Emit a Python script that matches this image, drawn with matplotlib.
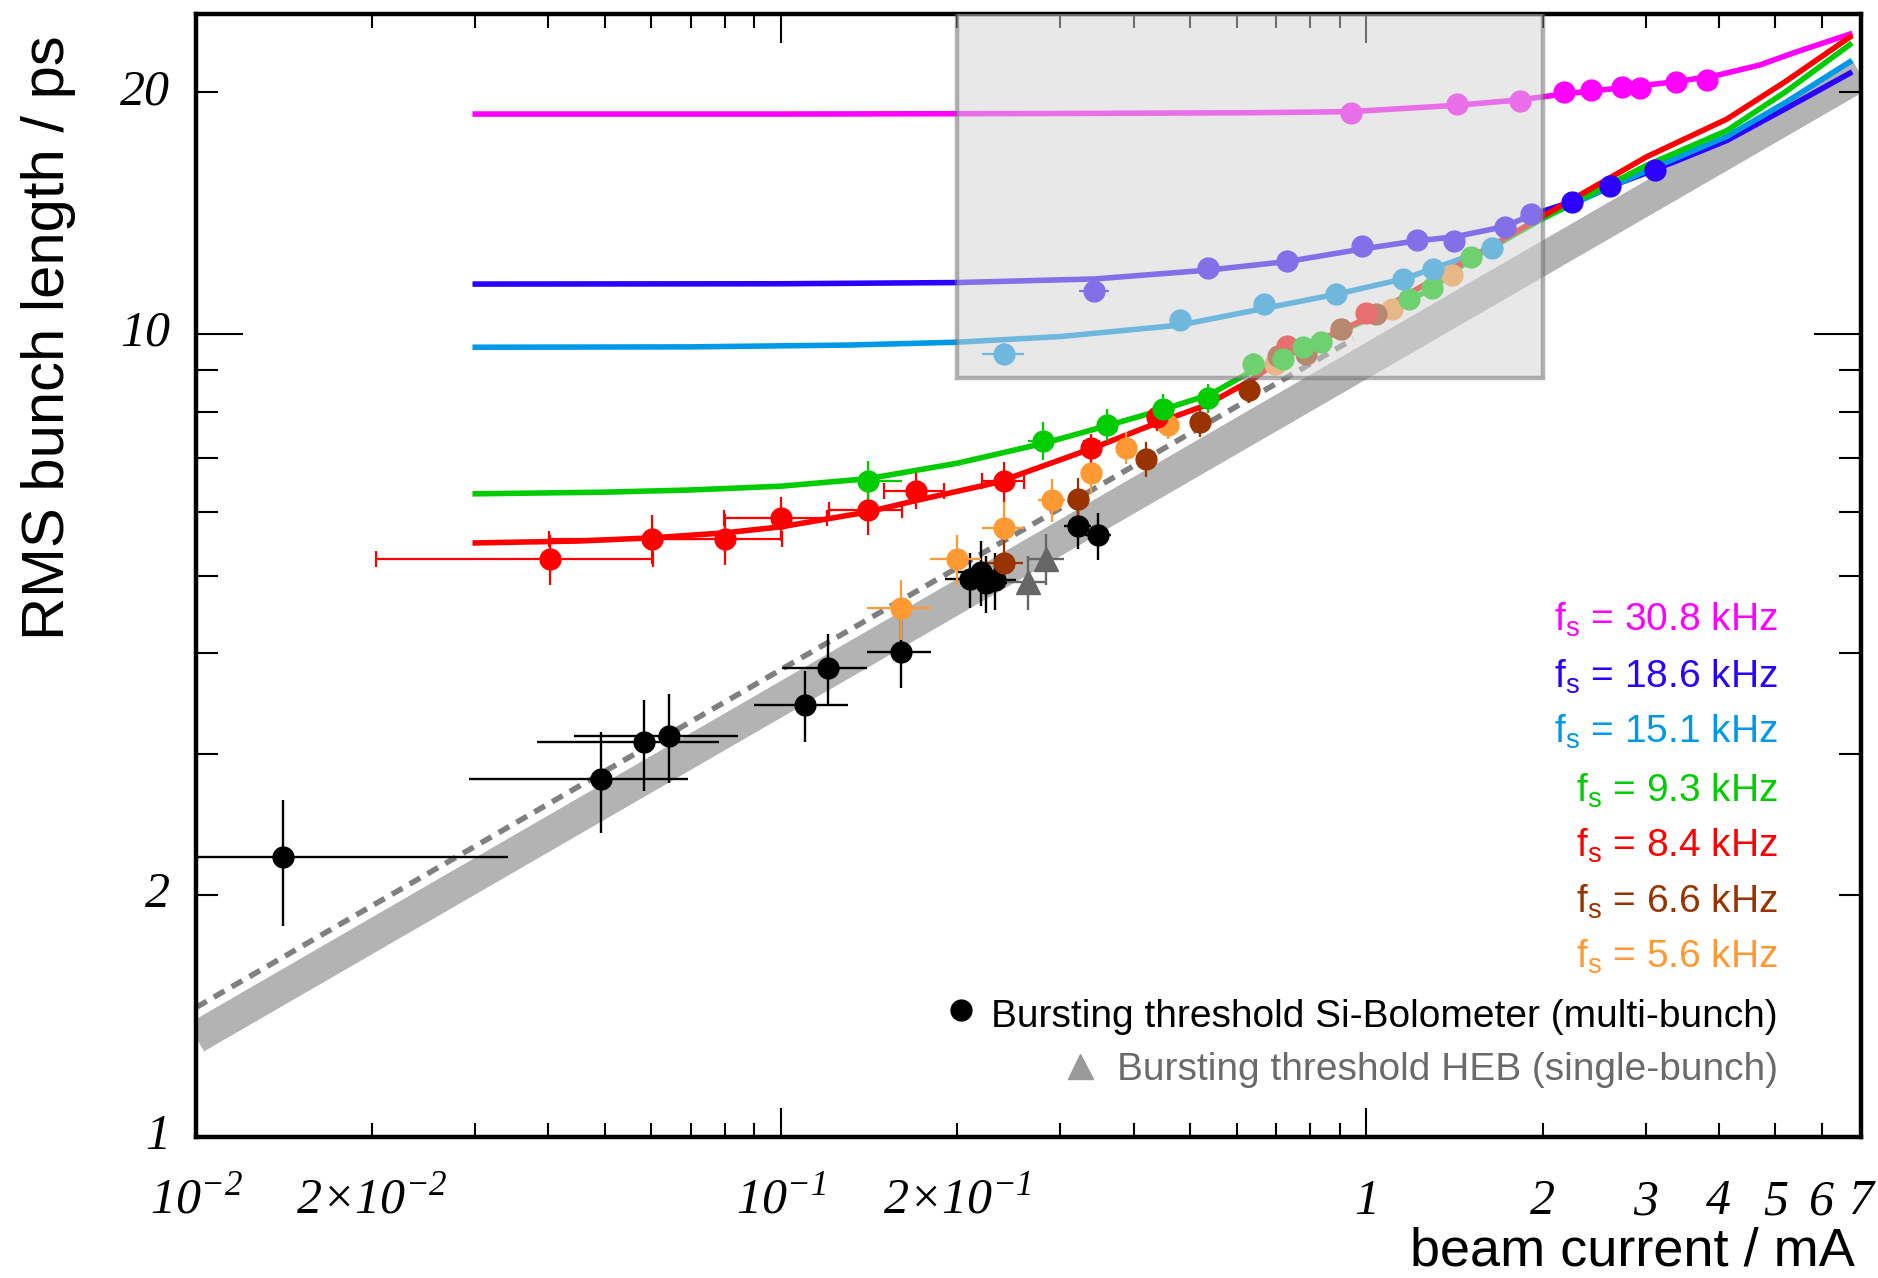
import matplotlib
matplotlib.use('Agg')
import matplotlib.pyplot as plt
from matplotlib.patches import Rectangle
from matplotlib.ticker import FixedLocator, NullFormatter
from matplotlib.font_manager import FontProperties

plt.rcParams['font.family'] = 'Liberation Sans'

# beam current in mA, rms bunch length in ps

# scaling band and dashed scaling line
band_I = [0.01, 7.0]
band_s = [1.33, 21.0]
dash_I = [0.01, 0.95]
dash_s = [1.45, 9.85]

# fits for each synchrotron frequency
fit308_I = [0.03, 0.1, 0.3, 0.63, 0.94, 1.43, 1.83, 2.2, 2.75, 3.4, 4.0, 4.7, 5.4, 6.7]
fit308_s = [18.77, 18.77, 18.8, 18.84, 18.9, 19.25, 19.55, 19.9, 20.25, 20.6, 21.0, 21.6, 22.4, 23.6]
fit186_I = [0.03, 0.1, 0.2, 0.343, 0.536, 0.733, 0.984, 1.218, 1.414, 1.727, 1.912, 2.244, 2.61, 3.11, 4.13, 5.23, 6.7]
fit186_s = [11.53, 11.54, 11.58, 11.7, 12.0, 12.3, 12.75, 13.05, 13.2, 13.6, 14.05, 14.6, 15.25, 16.0, 17.4, 19.1, 21.1]
fit151_I = [0.03, 0.07, 0.13, 0.2, 0.3, 0.48, 0.668, 0.889, 1.156, 1.3, 1.64, 2.0, 2.6, 3.1, 4.13, 5.2, 6.7]
fit151_s = [9.62, 9.63, 9.68, 9.76, 9.92, 10.25, 10.75, 11.2, 11.7, 12.05, 12.8, 13.95, 15.2, 16.1, 17.6, 19.4, 21.8]
fit93_I = [0.03, 0.05, 0.07, 0.1, 0.1406, 0.2, 0.28, 0.36, 0.45, 0.54, 0.64, 0.78, 1.0, 1.18, 1.3, 1.51, 2.0, 3.01, 4.13, 5.2, 6.7]
fit93_s = [6.32, 6.35, 6.39, 6.46, 6.6, 6.9, 7.3, 7.68, 8.05, 8.4, 9.0, 9.6, 10.4, 11.0, 11.4, 12.4, 13.9, 16.2, 17.9, 20.0, 22.9]
fit84_I = [0.03, 0.045, 0.06, 0.08, 0.1, 0.1406, 0.17, 0.234, 0.34, 0.44, 0.532, 0.635, 0.733, 1.0, 1.5, 2.0, 3.01, 4.13, 5.2, 6.7]
fit84_s = [5.49, 5.52, 5.57, 5.65, 5.75, 6.0, 6.2, 6.53, 7.2, 7.75, 8.15, 8.75, 9.4, 10.45, 12.4, 14.0, 16.6, 18.5, 20.6, 23.4]

# measured bunch lengths
I308 = [0.94, 1.43, 1.83, 2.18, 2.42, 2.73, 2.93, 3.38, 3.82]
s308 = [18.8, 19.3, 19.5, 20.0, 20.1, 20.3, 20.2, 20.55, 20.7]
ds308 = [0.3, 0.3, 0.3, 0.3, 0.3, 0.3, 0.3, 0.3, 0.3]
dI308 = [0, 0, 0, 0, 0, 0, 0, 0, 0]

I186 = [0.343, 0.536, 0.733, 0.984, 1.218, 1.414, 1.727, 1.912, 2.244, 2.61, 3.11]
s186 = [11.3, 12.08, 12.33, 12.87, 13.08, 13.05, 13.57, 14.09, 14.6, 15.28, 16.0]
ds186 = [0.3, 0.35, 0.35, 0.35, 0.3, 0.3, 0.3, 0.3, 0.3, 0.3, 0.3]
dI186 = [0.02, 0, 0, 0, 0, 0, 0, 0, 0, 0, 0]

I151 = [0.240, 0.480, 0.668, 0.889, 1.156, 1.30, 1.64]
s151 = [9.44, 10.4, 10.89, 11.22, 11.7, 12.04, 12.8]
ds151 = [0.3, 0.3, 0.3, 0.3, 0.3, 0.3, 0.3]
dI151 = [0.02, 0, 0, 0, 0, 0, 0]

I93 = [0.1406, 0.2805, 0.360, 0.449, 0.537, 0.639, 0.719, 0.778, 0.836, 1.182, 1.295, 1.51]
s93 = [6.56, 7.36, 7.70, 8.06, 8.32, 9.17, 9.30, 9.62, 9.76, 11.04, 11.39, 12.47]
ds93 = [0.38, 0.4, 0.35, 0.35, 0.35, 0.3, 0.25, 0.25, 0.25, 0.25, 0.25, 0.25]
dI93 = [0.02, 0.016, 0, 0, 0, 0, 0, 0, 0, 0, 0, 0]

I84 = [0.0403, 0.0601, 0.0802, 0.0998, 0.1406, 0.170, 0.240, 0.339, 0.438, 0.733, 0.997]
s84 = [5.24, 5.56, 5.56, 5.89, 6.04, 6.38, 6.55, 7.21, 7.87, 9.66, 10.6]
ds84 = [0.38, 0.39, 0.40, 0.37, 0.42, 0.33, 0.38, 0.30, 0.30, 0.20, 0.20]
dI84 = [0.02, 0.02, 0.02, 0.02, 0.02, 0.02, 0.02, 0.01, 0, 0, 0]

I66 = [0.240, 0.321, 0.420, 0.519, 0.629, 0.705, 0.788, 0.904, 1.037]
s66 = [5.18, 6.23, 6.98, 7.77, 8.50, 9.39, 9.44, 10.14, 10.58]
ds66 = [0.35, 0.38, 0.35, 0.33, 0.3, 0.2, 0.2, 0.2, 0.2]
dI66 = [0.019, 0.012, 0, 0, 0, 0, 0, 0, 0]

I56 = [0.160, 0.1995, 0.240, 0.290, 0.339, 0.389, 0.458, 0.698, 0.904, 1.107, 1.401]
s56 = [4.55, 5.24, 5.73, 6.21, 6.70, 7.21, 7.69, 9.17, 10.14, 10.73, 11.83]
ds56 = [0.39, 0.37, 0.47, 0.38, 0.38, 0.33, 0.3, 0.2, 0.2, 0.2, 0.2]
dI56 = [0.02, 0.02, 0.02, 0.015, 0, 0, 0, 0, 0, 0, 0]

# bursting thresholds
I_bolo = [0.01407, 0.0493, 0.0583, 0.0642, 0.110, 0.1204, 0.160, 0.2105, 0.2193, 0.2236, 0.2318, 0.321, 0.348]
s_bolo = [2.23, 2.79, 3.10, 3.16, 3.45, 3.84, 4.02, 4.95, 5.05, 4.89, 4.93, 5.76, 5.61]
ds_bolo = [0.40, 0.40, 0.40, 0.40, 0.35, 0.39, 0.40, 0.39, 0.47, 0.40, 0.40, 0.36, 0.38]
dI_bolo = [0.02, 0.02, 0.02, 0.02, 0.02, 0.02, 0.02, 0.02, 0.02, 0.02, 0.02, 0.017, 0.018]

I_heb = [0.264, 0.284]
s_heb = [4.91, 5.25]
ds_heb = [0.38, 0.39]
dI_heb = [0.021, 0.02]

fs_labels = ['30.8', '18.6', '15.1', '9.3', '8.4', '6.6', '5.6']
fs_colors = ['#ff00ff', '#2b00ff', '#0099e8', '#00cc00', '#ff0000', '#993300', '#ff9933']

x_tick_vals = [0.01, 0.02, 0.1, 0.2, 1, 2, 3, 4, 5, 6, 7]
x_tick_text = [r'10$^{\mathregular{-2}}$', r'2×10$^{\mathregular{-2}}$',
               r'10$^{\mathregular{-1}}$', r'2×10$^{\mathregular{-1}}$',
               '1', '2', '3', '4', '5', '6', '7']
y_tick_vals = [1, 2, 10, 20]
y_tick_text = ['1', '2', '10', '20']


fig = plt.figure(figsize=(18.78, 12.78), dpi=100)
ax = fig.add_axes([0.1044, 0.1103, 0.8865, 0.8787])
ax.set_xscale('log')
ax.set_yscale('log')
ax.set_xlim(0.01, 7.0)
ax.set_ylim(1.0, 25.0)

# scaling band and dashed line
ax.plot(band_I, band_s, color='#b3b3b3', lw=23, solid_capstyle='butt', zorder=1)
ax.plot(dash_I, dash_s, color='#808080', lw=4, dashes=(2.2, 1.5), zorder=2)

fits = [(fit308_I, fit308_s), (fit186_I, fit186_s), (fit151_I, fit151_s),
        (fit93_I, fit93_s), (fit84_I, fit84_s), None, None]
points = [(I308, s308, ds308, dI308), (I186, s186, ds186, dI186), (I151, s151, ds151, dI151),
          (I93, s93, ds93, dI93), (I84, s84, ds84, dI84), (I66, s66, ds66, dI66),
          (I56, s56, ds56, dI56)]

for fit, col in zip(fits, fs_colors):
    if fit is not None:
        ax.plot(fit[0], fit[1], color=col, lw=4, zorder=3, solid_joinstyle='round')

# threshold measurements
ax.errorbar(I_bolo, s_bolo, xerr=dI_bolo, yerr=ds_bolo, fmt='o', color='k', ms=15,
            elinewidth=1.7, capsize=0, zorder=4)
ax.errorbar(I_heb, s_heb, xerr=dI_heb, yerr=ds_heb, fmt='^', color='#666666', ms=17,
            elinewidth=1.7, capsize=0, zorder=4)

# draw low frequencies first so the higher ones sit on top
for (I, s, ds, dI), col in list(zip(points, fs_colors))[::-1]:
    if col == '#ff0000':
        ax.errorbar(I, s, xerr=dI, fmt='none', ecolor=col, elinewidth=1.6, capsize=6,
                    capthick=1.6, zorder=4)
        ax.errorbar(I, s, yerr=ds, fmt='o', color=col, ms=15, elinewidth=1.6, capsize=0,
                    zorder=4)
    else:
        ax.errorbar(I, s, xerr=dI, yerr=ds, fmt='o', color=col, ms=15, elinewidth=1.6,
                    capsize=0, zorder=4)

# shaded region
box = Rectangle((0.2, 8.8), 2.0 - 0.2, 25.0 - 8.8, facecolor='#d4d4d4',
                edgecolor='#6e6e6e', lw=3.2, alpha=0.525, zorder=5)
ax.add_patch(box)

# axes frame and ticks
for sp in ax.spines.values():
    sp.set_linewidth(3.2)
ax.xaxis.set_major_locator(FixedLocator([0.01, 0.1, 1.0]))
ax.xaxis.set_minor_locator(FixedLocator([k * d for d in (0.01, 0.1, 1.0)
                                         for k in range(2, 10) if k * d <= 7.0]))
ax.yaxis.set_major_locator(FixedLocator([1.0, 10.0]))
ax.yaxis.set_minor_locator(FixedLocator([2, 3, 4, 5, 6, 7, 8, 9, 20]))
for a in (ax.xaxis, ax.yaxis):
    a.set_major_formatter(NullFormatter())
    a.set_minor_formatter(NullFormatter())
ax.tick_params(axis='x', which='major', direction='in', length=21, width=1.5,
               top=True, bottom=True)
ax.tick_params(axis='x', which='minor', direction='in', length=10, width=1.5,
               top=True, bottom=True)
ax.tick_params(axis='y', which='major', direction='in', length=34, width=1.5,
               left=True, right=True)
ax.tick_params(axis='y', which='minor', direction='in', length=16, width=1.5,
               left=True, right=True)

serif_it = FontProperties(family='Liberation Serif', style='italic', size=36)
for v, t in zip(x_tick_vals, x_tick_text):
    ax.text(v, -0.0686, t, transform=ax.get_xaxis_transform(), ha='center',
            va='baseline', fontproperties=serif_it, clip_on=False)
for v, t in zip(y_tick_vals, y_tick_text):
    ax.text(-0.0156, v, t, transform=ax.get_yaxis_transform(), ha='right',
            va='center', fontproperties=serif_it, clip_on=False)

fig.text(0.0256, 0.972, 'RMS bunch length / ps', rotation=90, ha='center', va='top',
         fontsize=43)
fig.text(0.9877, 0.0095, 'beam current / mA', ha='right', va='baseline', fontsize=39)

# legend
leg_base = [631, 688, 743, 802, 857, 913, 968]
for lab, col, yb in zip(fs_labels, fs_colors, leg_base):
    fig.text(0.9468, 1 - yb / 1278, r'f$_\mathregular{s}$ = ' + lab + ' kHz', color=col,
             ha='right', va='baseline', fontsize=28)
fig.text(0.9468, 1 - 1027 / 1278, 'Bursting threshold Si-Bolometer (multi-bunch)',
         color='k', ha='right', va='baseline', fontsize=28)
fig.text(0.9468, 1 - 1080 / 1278, 'Bursting threshold HEB (single-bunch)',
         color='#6a6a6a', ha='right', va='baseline', fontsize=28)
ax.plot([0.4595], [0.1131], 'o', color='k', ms=15, transform=ax.transAxes, clip_on=False)
ax.plot([0.531], [0.0632], '^', color='#999999', ms=18, transform=ax.transAxes, clip_on=False)

fig.savefig('out.png', dpi=100)
